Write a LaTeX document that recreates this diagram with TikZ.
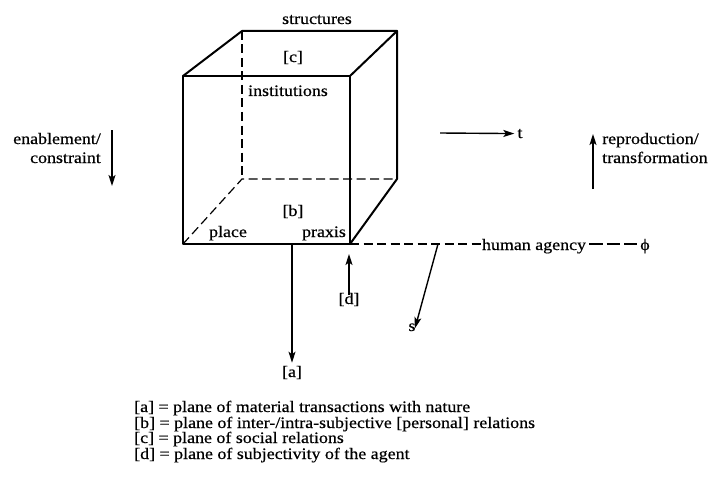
\documentclass[tikz,border=0pt]{standalone}
\usepackage{fontspec}
\setmainfont{Liberation Serif}[FakeStretch=1.12,FakeBold=0.5]
\usetikzlibrary{arrows.meta}
\begin{document}
\begin{tikzpicture}[x=1pt,y=-1pt,
  edge/.style={line width=2pt, line join=round, line cap=round},
  hid/.style={line width=1.2pt, dash pattern=on 9pt off 4.5pt},
  longdash/.style={line width=1.3pt, dash pattern=on 13.5pt off 4pt},
  lbl/.style={font=\fontsize{16}{19}\selectfont, inner sep=0pt},
  leg/.style={font=\fontsize{16}{16}\selectfont, inner sep=0pt, anchor=base west},
  arr/.style={line width=1.4pt, -{Stealth[length=11pt,width=7pt,inset=2.5pt]}},
]
\useasboundingbox (0,0) rectangle (714,500);
% cube corners
\coordinate (F1) at (183,76);
\coordinate (F2) at (350,76);
\coordinate (F3) at (350,244);
\coordinate (F4) at (183,244);
\coordinate (B1) at (242,31);
\coordinate (B2) at (397,31);
\coordinate (B3) at (397,179);
\coordinate (B4) at (242,179);
% hidden edges
\draw[hid] (F4) -- (B4) -- (B3);
\draw[hid] (B1) -- (B4);
% visible edges
\draw[edge] (F1) -- (F2) -- (F3) -- (F4) -- cycle;
\draw[edge] (F1) -- (B1) -- (B2) -- (F2);
\draw[edge] (B2) -- (B3) -- (F3);
% cube labels
\node[lbl, anchor=base] (str) at (317,24) {structures};
\node[lbl, anchor=base] (c) at (293,62) {[c]};
\node[lbl, anchor=base] (inst) at (288,96) {institutions};
\node[lbl, anchor=base] (b) at (293,216) {[b]};
\node[lbl, anchor=base] (place) at (228,237) {place};
\node[lbl, anchor=base] (praxis) at (324,237) {praxis};
% side labels
\node[lbl, anchor=base east, align=right] (enab) at (101,163) {enablement/\\constraint};
\coordinate (e0) at (112,130);
\coordinate (e1) at (112,186);
\draw[arr] (e0) -- (e1);
\node[lbl, anchor=base] (t) at (520,138) {t};
\coordinate (t0) at (440,133);
\draw[arr] (t0) -- ([xshift=-3pt]t.west);
\node[lbl, anchor=base west, align=left] (repr) at (602,163) {reproduction/\\transformation};
\coordinate (r0) at (593,189);
\coordinate (r1) at (593,134);
\draw[arr] (r0) -- (r1);
% axes below
\coordinate (a0) at (292,244);
\node[lbl, anchor=base] (a) at (292,377) {[a]};
\draw[arr] (a0) -- ([yshift=3pt]a.north);
\node[lbl, anchor=base] (d) at (349,304) {[d]};
\coordinate (dtip) at (349,254);
\draw[arr] ([yshift=-2pt]d.north) -- (dtip);
\node[lbl, anchor=base] (ha) at (534,250) {human agency};
\node[lbl, anchor=base] (phi) at (645,250) {ϕ};
\draw[hid] (F3) -- (ha.west |- F3);
\draw[longdash] ([xshift=3pt]ha.east |- F3) -- ([xshift=-3pt]phi.west |- F3);
\coordinate (s0) at (438,244);
\node[lbl, anchor=base] (s) at (412,331) {s};
\draw[arr] (s0) -- ([xshift=3pt,yshift=-5pt]s.north);
% legend
\node[leg] (la) at (134,412) {[a] = plane of material transactions with nature};
\node[leg] (lb) at (134,428) {[b] = plane of inter-/intra-subjective [personal] relations};
\node[leg] (lc) at (134,443) {[c] = plane of social relations};
\node[leg] (ld) at (134,459) {[d] = plane of subjectivity of the agent};
\end{tikzpicture}
\end{document}
